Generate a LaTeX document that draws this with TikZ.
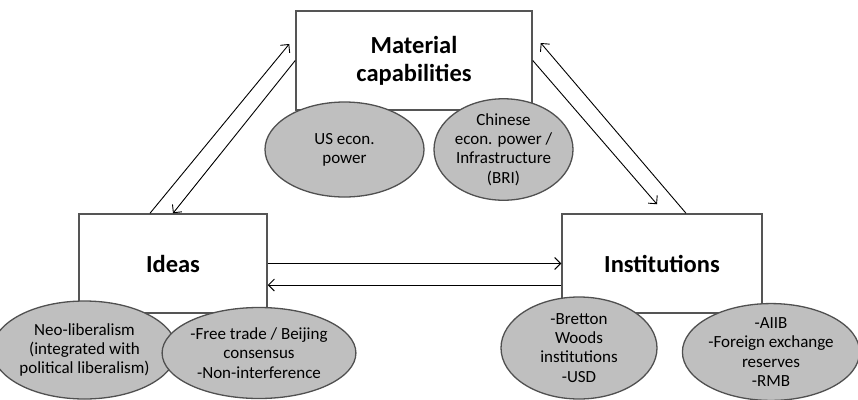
\documentclass[tikz,border=0pt]{standalone}
\usepackage{fontspec}
\setmainfont{Carlito}
\usepackage{xcolor}
\usepackage{tikz}
\usetikzlibrary{%
    shapes.geometric,%
    arrows.meta%
}
\definecolor{boxline}{RGB}{85,85,85}
\definecolor{ovalfill}{RGB}{191,191,191}
\definecolor{ovalline}{RGB}{80,80,80}

\begin{document}
\begin{tikzpicture}[
        x=1pt, y=-1pt,
        pillar/.style={draw=boxline, line width=1.5pt, fill=white,
            inner sep=0pt, align=center,
            font={\fontsize{24.5}{28}\selectfont\bfseries}},
        oval/.style={ellipse, draw=ovalline, line width=1.3pt, fill=ovalfill,
            inner sep=0pt, align=center,
            font={\fontsize{17}{19.2}\selectfont}},
        conn/.style={black, line width=0.9pt,
            -{Straight Barb[length=6pt,width=12pt,line width=0.9pt]}},
        ]
        \useasboundingbox (0, 0) rectangle (858, 399);

        % three boxes
        \node[pillar, minimum width=236pt, minimum height=99pt] (material) at (414, 60.5)
            {Material\\capabilities};
        \node[pillar, minimum width=188pt, minimum height=99pt] (ideas) at (173, 263.5)
            {Ideas};
        \node[pillar, minimum width=200pt, minimum height=99pt] (inst) at (662, 263.5)
            {Institutions};

        % ovals below material capabilities
        \node[oval, minimum width=159pt, minimum height=95pt] (usecon) at (344.5, 149.5)
            {US econ.\\power};
        \node[oval, minimum width=139pt, minimum height=93pt] (cnecon) at (503.5, 149.5)
            {Chinese\\econ. power /\\Infrastructure\\(BRI)};

        % ovals below ideas
        \node[oval, minimum width=155pt, minimum height=98pt] (neolib) at (84.5, 350)
            {Neo-liberalism\\(integrated with\\political liberalism)};
        \node[oval, minimum width=162pt, minimum height=91pt] (freetrade) at (259, 353)
            {-Free trade / Beijing\\consensus\\-Non-interference};

        % ovals below institutions
        \node[oval, minimum width=156pt, minimum height=102pt] (bretton) at (579, 348)
            {-Bretton\\Woods\\institutions\\-USD};
        \node[oval, minimum width=170pt, minimum height=93pt] (aiib) at (771, 352)
            {-AIIB\\-Foreign exchange\\reserves\\-RMB};

        % ideas <-> material
        \draw[conn] ([shift={(-23, 0)}]ideas.north) -- ([shift={(-6, -16.5)}]material.west);
        \draw[conn] (material.west) -- (ideas.north);

        % material <-> institutions
        \draw[conn] (material.east) -- ([shift={(-5, -9)}]inst.north);
        \draw[conn] ([shift={(24, 0)}]inst.north) -- ([shift={(8, -17.5)}]material.east);

        % ideas <-> institutions
        \draw[conn] (ideas.east) -- (inst.west);
        \draw[conn] ([shift={(0, 21.5)}]inst.west) -- ([shift={(0, 21.5)}]ideas.east);
    \end{tikzpicture}
\end{document}
